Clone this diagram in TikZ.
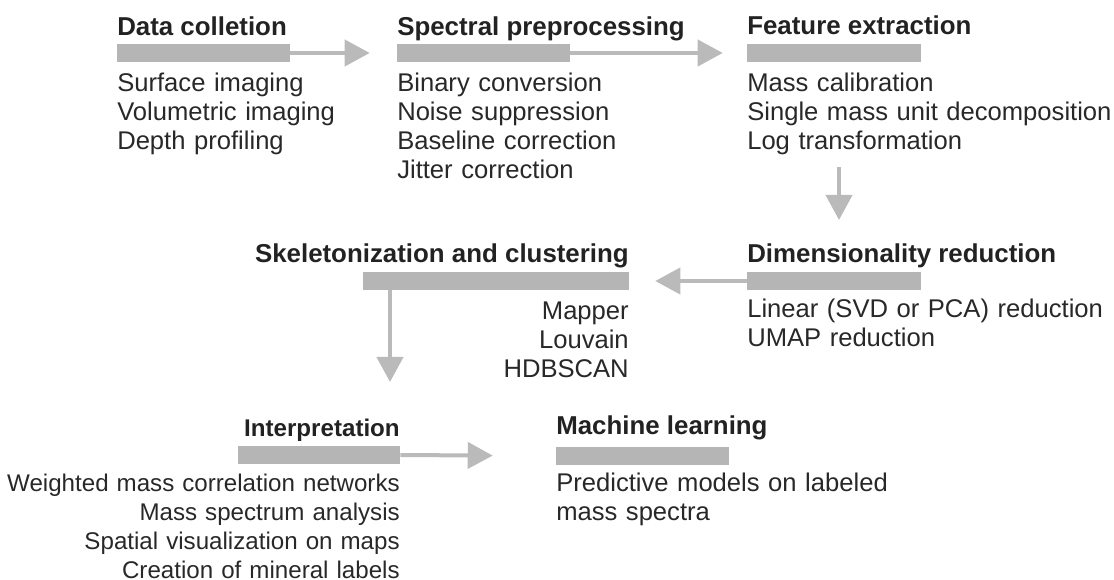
\documentclass[tikz,border=0pt]{standalone}
\usepackage{fontspec}
\setmainfont{Liberation Sans}
\usetikzlibrary{arrows.meta}
\definecolor{barc}{RGB}{181,181,181}
\definecolor{arrc}{RGB}{186,186,186}
\definecolor{txtc}{RGB}{40,40,40}
\definecolor{hdc}{RGB}{34,34,34}
\begin{document}
\begin{tikzpicture}[x=0.75pt,y=-0.75pt,
  bar/.style={rectangle, fill=barc, draw=none, inner sep=0pt, minimum height=13.5pt},
  head/.style={inner sep=0pt, text=hdc, font=\fontsize{19.4}{21.75}\selectfont\bfseries},
  itemsl/.style={inner sep=0pt, text=txtc, text width=420pt, align=left, anchor=base west,
    font=\fontsize{19.2}{21.75}\selectfont},
  itemsr/.style={inner sep=0pt, text=txtc, text width=420pt, align=right, anchor=base east,
    font=\fontsize{19.2}{21.75}\selectfont},
  small/.style={font=\fontsize{18.1}{21.75}\selectfont},
  smallhead/.style={font=\fontsize{18.1}{21.75}\selectfont\bfseries},
  arr/.style={draw=arrc, line width=3pt, -{Triangle[length=18.75pt,width=19.5pt]}}
]
\useasboundingbox (0,0) rectangle (1114,580);

% bars
\node[bar, minimum width=129.75pt] (b1) at (203.5,53) {};
\node[bar, minimum width=129.75pt] (b2) at (483.5,53) {};
\node[bar, minimum width=130.5pt] (b3) at (834,53) {};
\node[bar, minimum width=130.5pt] (b4) at (834,281) {};
\node[bar, minimum width=199.5pt] (b5) at (496,281) {};
\node[bar, minimum width=121.5pt] (b6) at (319,455) {};
\node[bar, minimum width=129.75pt] (b7) at (642.5,456) {};

% headings
\node[head, anchor=base west] (h1) at (117,36) {Data colletion};
\node[head, anchor=base west] (h2) at (397,36) {Spectral preprocessing};
\node[head, anchor=base west] (h3) at (747,35) {Feature extraction};
\node[head, anchor=base west] (h4) at (747,263) {Dimensionality reduction};
\node[head, anchor=base east] (h5) at (629,263) {Skeletonization and clustering};
\node[head, smallhead, anchor=base east] (h6) at (400,437) {Interpretation};
\node[head, anchor=base west] (h7) at (556,435) {Machine learning};

% item lists
\node[itemsl] (t1) at (117,92) {Surface imaging\\Volumetric imaging\\Depth profiling};
\node[itemsl] (t2) at (397,92) {Binary conversion\\Noise suppression\\Baseline correction\\Jitter correction};
\node[itemsl] (t3) at (747,92) {Mass calibration\\Single mass unit decomposition\\Log transformation};
\node[itemsl] (t4) at (747,318) {Linear (SVD or PCA) reduction\\UMAP reduction};
\node[itemsr] (t5) at (629,320) {Mapper\\Louvain\\HDBSCAN};
\node[itemsr, small] (t6) at (400,492) {Weighted mass correlation networks\\Mass spectrum analysis\\Spatial visualization on maps\\Creation of mineral labels};
\node[itemsl] (t7) at (556,492) {Predictive models on labeled\\mass spectra};

% connectors
\coordinate (c3a) at (839,167);
\coordinate (c3b) at (839,220);
\coordinate (c5) at (390,382);
\draw[arr, shorten >=20.25pt] (b1.east) -- (b2.west);
\draw[arr, shorten >=18pt] (b2.east) -- (b3.west);
\draw[arr] (c3a) -- (c3b);
\draw[arr, shorten >=19.5pt] (b4.west) -- (b5.east);
\draw[arr] (b5.south -| c5) -- (c5);
\draw[arr, shorten >=47.25pt] (b6.east) -- (b7.west);
\end{tikzpicture}
\end{document}
